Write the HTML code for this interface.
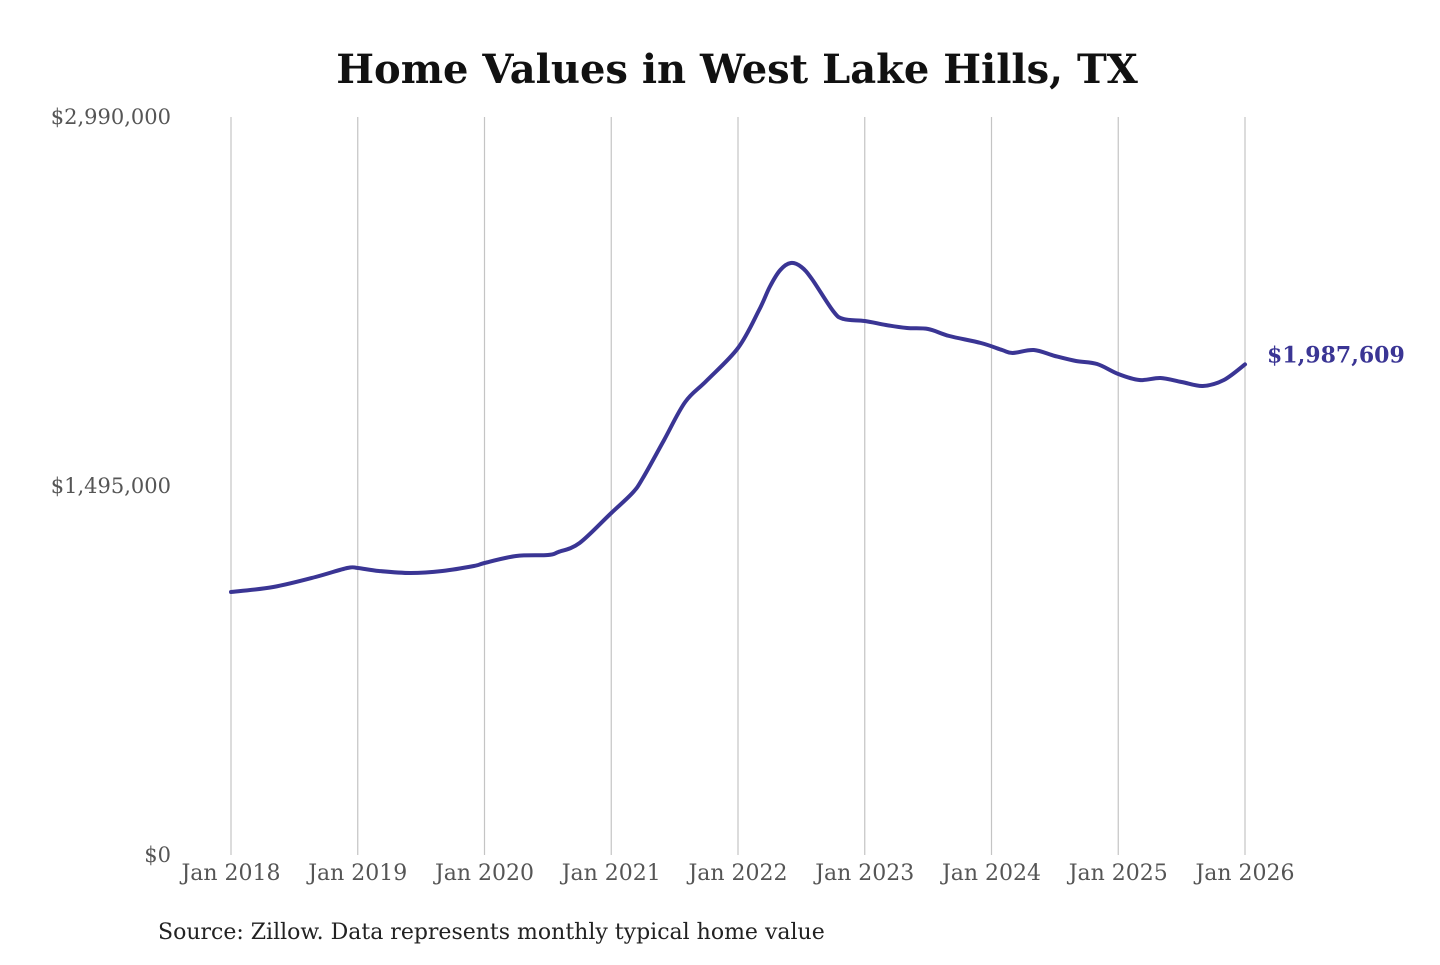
<!DOCTYPE html>
<html><head><meta charset="utf-8"><style>
body{margin:0;background:#fff;}
svg text{font-family:"DejaVu Serif","Liberation Serif",serif;}
</style></head><body>
<svg width="1440" height="960" viewBox="0 0 1440 960">
<text x="737" y="83" text-anchor="middle" font-size="40" font-weight="bold" fill="#111">Home Values in West Lake Hills, TX</text>
<g id="grid"></g><g id="yt"></g><g id="xt"></g>
<path id="line" fill="none" stroke="#3a3594" stroke-width="4" stroke-linejoin="round" stroke-linecap="round"/>
<text id="endlab" font-size="22" font-weight="bold" fill="#3a3594"></text>
<text x="158" y="939" font-size="22" fill="#222">Source: Zillow. Data represents monthly typical home value</text>
</svg>
<script>
const months=[0,4,8,11,12,14,17,20,23,24,27,30,31,33,36,38,39,41,43,45,48,50,51,52,53,54,55,57,58,60,62,64,66,68,71,73,74,76,78,80,82,84,86,88,90,92,94,96];
const values=[1065600,1085800,1126300,1162800,1162800,1150600,1142500,1150600,1170900,1183000,1211400,1215500,1227600,1264100,1385600,1466700,1527400,1681400,1835300,1920400,2054100,2208100,2301300,2370200,2398500,2382300,2333700,2204000,2171600,2163500,2147300,2135100,2131100,2102700,2074400,2046000,2033900,2046000,2021700,2001400,1989300,1948800,1924500,1932600,1916400,1900200,1924500,1987609];
const yTicks=[0,1495000,2990000];
const yTickLabels=["$0","$1,495,000","$2,990,000"];
const xTickLabels=["Jan 2018","Jan 2019","Jan 2020","Jan 2021","Jan 2022","Jan 2023","Jan 2024","Jan 2025","Jan 2026"];
const X0=231,X1=1245,Y0=855,Y1=117;
const xs=m=>X0+(X1-X0)*m/96;
const ys=v=>Y0-(Y0-Y1)*v/2990000;
const NS="http://www.w3.org/2000/svg";
function mk(t,a,p){const e=document.createElementNS(NS,t);for(const k in a)e.setAttribute(k,a[k]);p.appendChild(e);return e;}
const grid=document.getElementById('grid'),yt=document.getElementById('yt'),xt=document.getElementById('xt');
xTickLabels.forEach((l,i)=>{const x=xs(i*12);
 const g=mk('line',{x1:x,x2:x,y1:Y1,y2:Y0,stroke:'#c4c4c4','stroke-width':1.2},grid);
 
 
 const t=mk('text',{x:x,y:880,'text-anchor':'middle','font-size':22,fill:'#555'},xt);t.textContent=l;
 
 
});
yTicks.forEach((v,i)=>{const t=mk('text',{x:171,y:ys(v)+7,'text-anchor':'end','font-size':21,fill:'#555'},yt);t.textContent=yTickLabels[i];
 
 
});
const P=months.map((m,i)=>[xs(m),ys(values[i])]);
let d='M'+P[0][0].toFixed(1)+','+P[0][1].toFixed(1);
for(let i=0;i<P.length-1;i++){const p0=P[Math.max(0,i-1)],p1=P[i],p2=P[i+1],p3=P[Math.min(P.length-1,i+2)];
 const c1=[p1[0]+(p2[0]-p0[0])/6,p1[1]+(p2[1]-p0[1])/6],c2=[p2[0]-(p3[0]-p1[0])/6,p2[1]-(p3[1]-p1[1])/6];
 d+='C'+c1.map(v=>v.toFixed(1)).join(',')+' '+c2.map(v=>v.toFixed(1)).join(',')+' '+p2.map(v=>v.toFixed(1)).join(',');}
document.getElementById('line').setAttribute('d',d);
const el=document.getElementById('endlab');const lv=values[values.length-1];
el.setAttribute('x',1267);el.setAttribute('y',ys(lv)-2);
el.textContent='$'+lv.toLocaleString('en-US');
</script>
</body></html>
